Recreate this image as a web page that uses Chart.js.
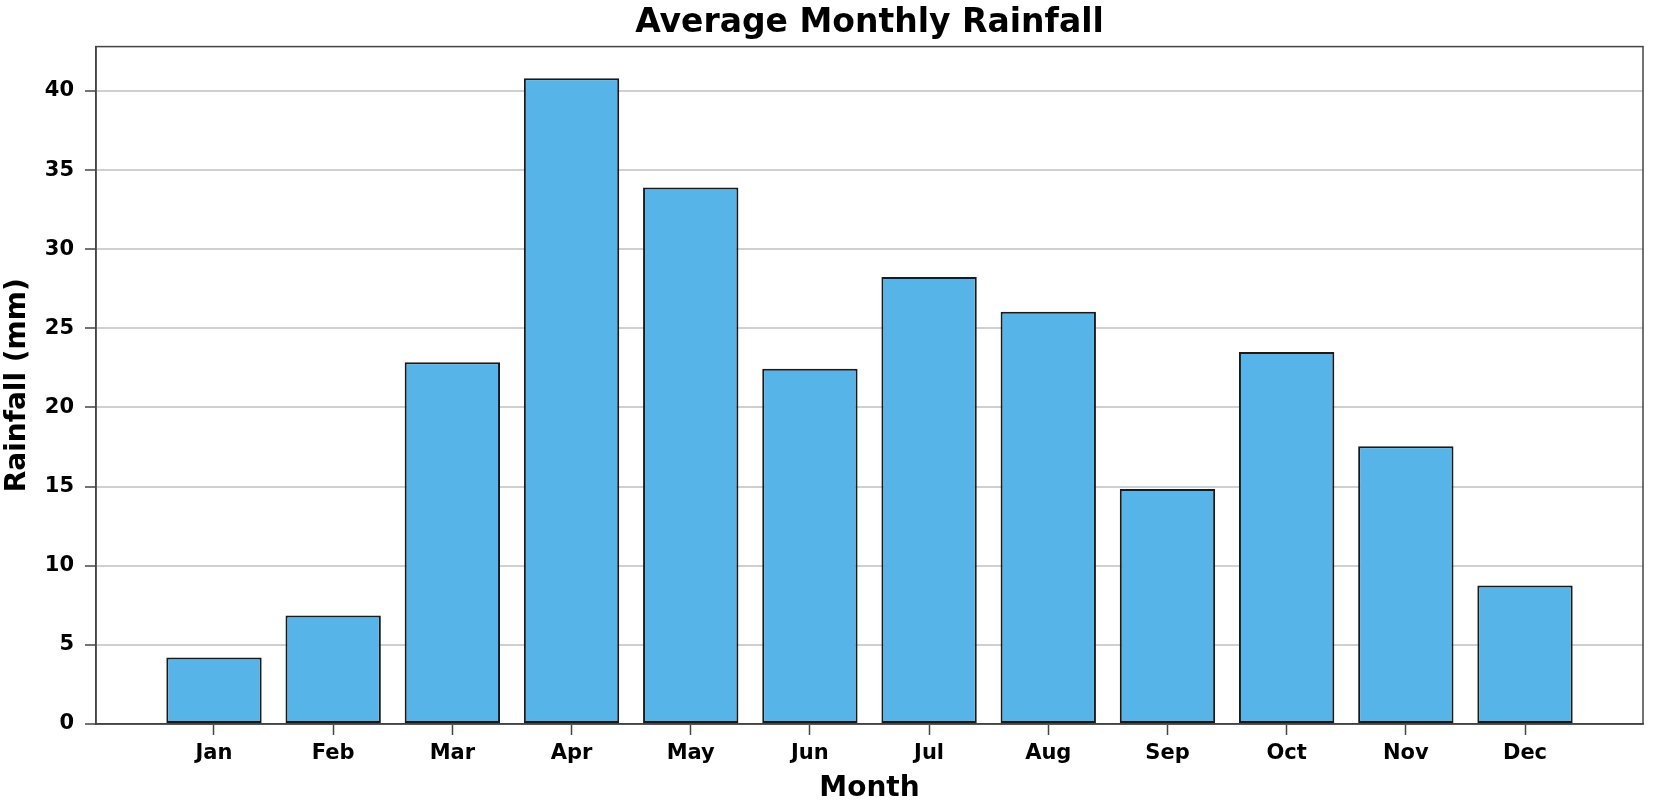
<!DOCTYPE html>
<html>
<head>
<meta charset="utf-8">
<title>Average Monthly Rainfall</title>
<script src="https://cdn.jsdelivr.net/npm/chart.js@4/dist/chart.umd.min.js"></script>
<style>
  html, body { margin: 0; padding: 0; background: #fff; }
  #wrap { width: 1654px; height: 803px; }
</style>
</head>
<body>
<div id="wrap"><canvas id="rain-chart"></canvas></div>
<script>
// ===== Data =====
const months = ["Jan", "Feb", "Mar", "Apr", "May", "Jun", "Jul", "Aug", "Sep", "Oct", "Nov", "Dec"];
const rainfall = [4.2, 6.85, 22.85, 40.8, 33.9, 22.45, 28.25, 26.05, 14.85, 23.5, 17.55, 8.75];
const yTicks = [0, 5, 10, 15, 20, 25, 30, 35, 40];

const FONT = "'DejaVu Sans', sans-serif";
const SPINE = "#444444";

// box round the plot area (top and right spines too)
const framePlugin = {
    id: "frame",
    afterDraw(chart) {
        const a = chart.chartArea;
        const ctx = chart.ctx;
        ctx.save();
        ctx.strokeStyle = SPINE;
        ctx.lineWidth = 1.5;
        ctx.strokeRect(a.left, a.top, a.right - a.left, a.bottom - a.top);
        ctx.restore();
    }
};

const ctx = document.getElementById("rain-chart").getContext("2d");

new Chart(ctx, {
    type: "bar",
    data: {
        datasets: [{
            label: "Rainfall",
            data: months.map(function(m, i) { return { x: i, y: rainfall[i] }; }),
            backgroundColor: "#56B4E9",
            borderColor: "#1a1a1a",
            borderWidth: 2,
            borderSkipped: false,
            categoryPercentage: 1.0,
            barPercentage: 0.8,
        }],
    },
    options: {
        responsive: true,
        maintainAspectRatio: false,
        animation: false,
        layout: { padding: { left: 0, right: 11, top: 0, bottom: 0 } },
        plugins: {
            legend: { display: false },
            tooltip: { enabled: false },
            title: {
                display: true,
                text: "Average Monthly Rainfall",
                color: "#000",
                fullSize: false,
                font: { family: FONT, size: 33, weight: "bold" },
                padding: { top: 4, bottom: 3 },
            },
        },
        scales: {
            x: {
                type: "linear",
                offset: false,
                min: -0.99,
                max: 11.99,
                afterBuildTicks: function(scale) {
                    scale.ticks = months.map(function(m, i) { return { value: i }; });
                },
                afterFit: function(scale) { scale.height = 79; },
                ticks: {
                    autoSkip: false,
                    maxRotation: 0,
                    color: "#000",
                    padding: 6,
                    font: { family: FONT, size: 21, weight: "bold" },
                    callback: function(v) { return months[v]; },
                },
                grid: {
                    offset: false,
                    drawOnChartArea: false,
                    drawTicks: true,
                    tickLength: 11,
                    tickColor: SPINE,
                    tickWidth: 1.5,
                },
                border: { display: true, color: SPINE, width: 1.5 },
                title: {
                    display: true,
                    text: "Month",
                    color: "#000",
                    font: { family: FONT, size: 28, weight: "bold", lineHeight: 1.0 },
                    padding: { top: 0, bottom: 0 },
                },
            },
            y: {
                min: 0,
                max: 42.8,
                afterBuildTicks: function(scale) {
                    scale.ticks = yTicks.map(function(v) { return { value: v }; });
                },
                afterFit: function(scale) { scale.width = 96; },
                ticks: {
                    color: "#000",
                    padding: 11,
                    font: { family: FONT, size: 21, weight: "bold" },
                },
                grid: {
                    color: "#d0d0d0",
                    lineWidth: 2,
                    tickLength: 11,
                    tickColor: SPINE,
                    tickWidth: 1.5,
                },
                border: { display: true, color: SPINE, width: 1.5 },
                title: {
                    display: true,
                    text: "Rainfall (mm)",
                    color: "#000",
                    font: { family: FONT, size: 28, weight: "bold" },
                    padding: { top: 1, bottom: 0 },
                },
            },
        },
    },
    plugins: [framePlugin],
});
</script>
</body>
</html>
